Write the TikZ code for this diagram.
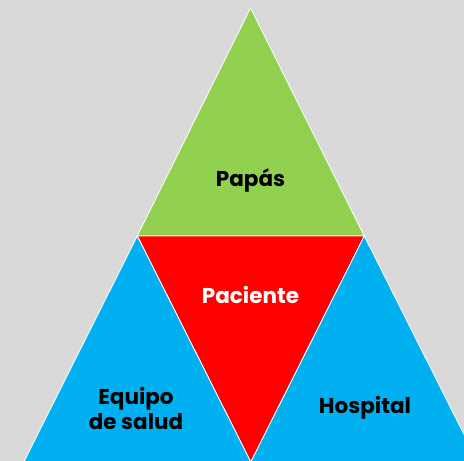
\documentclass[tikz,border=0pt]{standalone}
\usepackage{fontspec}
\setmainfont{Poppins}
\definecolor{bg}{HTML}{D9D9D9}
\definecolor{tgreen}{HTML}{92D050}
\definecolor{tred}{HTML}{FF0000}
\definecolor{tblue}{HTML}{00B0F0}
\begin{document}
\begin{tikzpicture}[x=1pt,y=-1pt,
  tri/.style={draw=white,line width=0.8pt,line join=miter},
  lbl/.style={font=\bfseries\fontsize{21.5}{25}\selectfont,align=center,inner sep=0pt}]
\useasboundingbox (0,0) rectangle (464,461);
\fill[bg] (0,0) rectangle (464,461);
\begin{scope}
\clip (0,0) rectangle (464,461);
\path[tri,fill=tgreen] (250.5,8) -- (137.3,236) -- (364.3,236) -- cycle;
\path[tri,fill=tred] (137.3,236) -- (364.3,236) -- (250.8,462) -- cycle;
\path[tri,fill=tblue] (137.3,236) -- (250.8,462) -- (23.8,462) -- cycle;
\path[tri,fill=tblue] (364.3,236) -- (477.8,462) -- (250.8,462) -- cycle;
\end{scope}
\node[lbl,text=black] (papas) at (250.5,180) {Papás};
\node[lbl,text=white] (paciente) at (250.5,295) {Paciente};
\node[lbl,text=black] (equipo) at (136,408) {Equipo\\de salud};
\node[lbl,text=black] (hospital) at (365,408) {Hospital};
\end{tikzpicture}
\end{document}
